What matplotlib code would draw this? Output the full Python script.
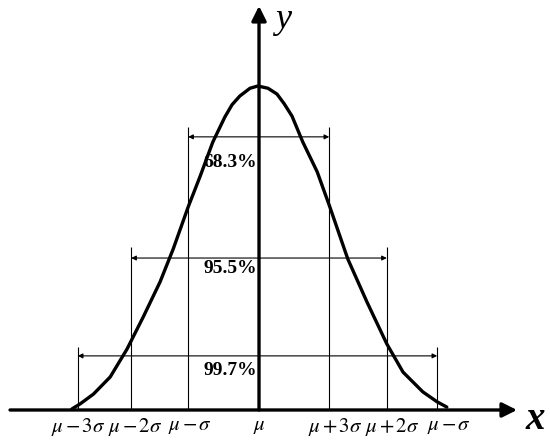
import matplotlib.pyplot as plt

plt.rcParams['mathtext.fontset'] = 'stix'
plt.rcParams['font.family'] = ['Liberation Serif', 'DejaVu Serif']

# bell curve (x in sigma-ish units from mu, y relative to peak)
curve_x = [-3.12, -2.98, -2.76, -2.48, -2.20, -1.93, -1.65, -1.43, -1.18, -0.98,
           -0.77, -0.57, -0.45, -0.32, -0.15, -0.02, 0.15, 0.30, 0.42, 0.55, 0.73,
           0.97, 1.18, 1.48, 1.80, 2.13, 2.40, 2.73, 2.97, 3.13]
curve_y = [0.003, 0.019, 0.049, 0.102, 0.188, 0.287, 0.395, 0.497, 0.627, 0.722,
           0.827, 0.904, 0.942, 0.969, 0.993, 1.0, 0.993, 0.975, 0.945, 0.907,
           0.827, 0.735, 0.627, 0.466, 0.333, 0.204, 0.117, 0.056, 0.025, 0.009]

# vertical guide lines and their heights
guide_x = [-3.02, -2.13, -1.18, 1.17, 2.13, 2.97]
guide_top = [0.194, 0.503, 0.873, 0.873, 0.503, 0.194]

# interval arrows: left end, right end, height
spans = [(-1.18, 1.17, 0.843), (-2.13, 2.13, 0.469), (-3.02, 2.97, 0.167)]
span_labels = ["68.3%", "95.5%", "99.7%"]
span_label_y = [0.765, 0.438, 0.123]

# labels under the x axis (as printed in the figure)
tick_label_x = [-3.02, -2.07, -1.15, 0, 1.27, 2.22, 3.17]
tick_labels = [r"$\mu\,{-}\,3\sigma$", r"$\mu\,{-}\,2\sigma$", r"$\mu\,{-}\,\sigma$",
               r"$\mu$", r"$\mu\,{+}\,3\sigma$", r"$\mu\,{+}\,2\sigma$",
               r"$\mu\,{-}\,\sigma$"]

fig = plt.figure(figsize=(5.5, 4.41), dpi=100)
ax = fig.add_axes([0, 0, 1, 1])
ax.set_xlim(-4.317, 4.85)
ax.set_ylim(-0.0957, 1.2654)
ax.axis('off')

# axes with arrows
ax.annotate("", xy=(4.30, 0), xytext=(-4.15, 0),
            arrowprops=dict(arrowstyle='-|>', lw=2.4, color='black',
                            mutation_scale=22, shrinkA=0, shrinkB=0))
ax.annotate("", xy=(0, 1.247), xytext=(0, 0),
            arrowprops=dict(arrowstyle='-|>', lw=2.4, color='black',
                            mutation_scale=22, shrinkA=0, shrinkB=0))
ax.text(4.6, -0.03, "x", fontsize=28, fontstyle='italic', fontweight='bold',
        ha='center', va='center')
ax.text(0.40, 1.205, "y", fontsize=26, fontstyle='italic',
        ha='center', va='center')

# guide lines
ax.vlines(guide_x, 0, guide_top, colors='black', lw=0.8)

# interval arrows
for (x0, x1, h), lab, ly in zip(spans, span_labels, span_label_y):
    ax.annotate("", xy=(x1, h), xytext=(x0, h),
                arrowprops=dict(arrowstyle='<|-|>', lw=0.8, color='black',
                                mutation_scale=7, shrinkA=0, shrinkB=0))
    ax.text(-0.03, ly, lab, fontsize=14, fontweight='bold',
            ha='right', va='center')

# the curve
ax.plot(curve_x, curve_y, color='black', lw=2.4, solid_joinstyle='round',
        solid_capstyle='round')

for p, lab in zip(tick_label_x, tick_labels):
    ax.text(p, -0.052, lab, fontsize=15, ha='center', va='center')

fig.savefig("out.png", dpi=100)
